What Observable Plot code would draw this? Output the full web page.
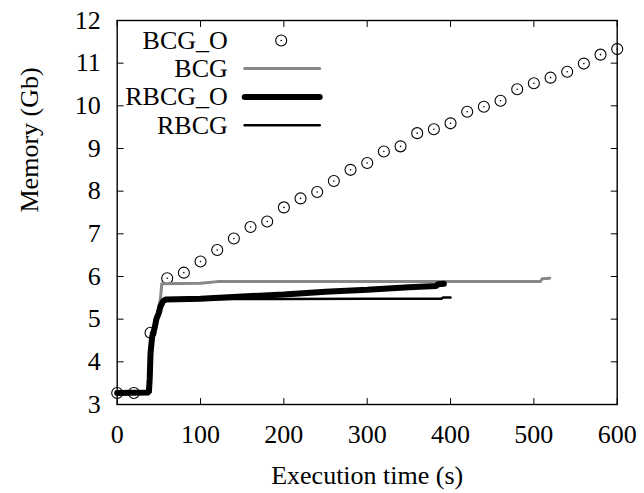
<!DOCTYPE html>
<html>
<head>
<meta charset="utf-8">
<script src="https://cdn.jsdelivr.net/npm/d3@7"></script>
<script src="https://cdn.jsdelivr.net/npm/@observablehq/plot@0.6"></script>
<style>
  html, body { margin: 0; padding: 0; background: #fff; }
</style>
</head>
<body>
<div id="chart"></div>
<script>
// ---- data ----
const xTicks = [0, 100, 200, 300, 400, 500, 600];
const yTicks = [3, 4, 5, 6, 7, 8, 9, 10, 11, 12];
const seriesNames = ["BCG_O", "BCG", "RBCG_O", "RBCG"];

// BCG_O: sampled points (circles)
const bcgOTime = [0, 20, 40, 60, 80, 100, 120, 140, 160, 180, 200, 220, 240, 260, 280, 300,
                  320, 340, 360, 380, 400, 420, 440, 460, 480, 500, 520, 540, 560, 580, 600];
const bcgOMem = [3.27, 3.27, 4.68, 5.96, 6.09, 6.35, 6.62, 6.89, 7.16, 7.29, 7.62, 7.83, 7.98, 8.24, 8.50, 8.66,
                 8.93, 9.05, 9.36, 9.45, 9.59, 9.86, 9.98, 10.12, 10.39, 10.53, 10.66, 10.80, 10.99, 11.20, 11.33];

// BCG: grey line
const bcgTime = [0, 38, 40, 45, 50, 52, 53.5, 100, 110, 120, 508, 510, 519];
const bcgMem  = [3.27, 3.28, 4.2, 4.8, 5.3, 5.5, 5.83, 5.84, 5.86, 5.88, 5.88, 5.95, 5.96];

// RBCG_O: thick black line
const rbcgOTime = [0, 38, 39, 40, 42, 45, 47, 50, 52, 55, 58, 100, 150, 200, 250, 300, 350, 383, 385, 392];
const rbcgOMem  = [3.27, 3.28, 3.6, 4.2, 4.6, 4.8, 5.0, 5.15, 5.3, 5.42, 5.46, 5.48, 5.53, 5.58, 5.64, 5.69, 5.75, 5.78, 5.82, 5.83];

// RBCG: thin black line
const rbcgTime = [0, 38, 40, 45, 50, 55, 58, 100, 200, 300, 389, 391, 400];
const rbcgMem  = [3.27, 3.28, 4.2, 4.8, 5.2, 5.42, 5.46, 5.47, 5.47, 5.48, 5.48, 5.51, 5.51];

// ---- build tables ----
const toRows = (t, m) => t.map((x, i) => ({t: x, m: m[i]}));
const bcgO = toRows(bcgOTime, bcgOMem);
const bcg = toRows(bcgTime, bcgMem);
const rbcgO = toRows(rbcgOTime, rbcgOMem);
const rbcg = toRows(rbcgTime, rbcgMem);

const lineShape = { draw(context, l) { context.moveTo(0, 0); context.lineTo(0, -l); } };
const FS = 26;
const FF = "Liberation Serif";

const tickMarks = [
  Plot.vector(xTicks, {x: d => d, frameAnchor: "bottom", rotate: 0, length: 6, anchor: "start", shape: lineShape, stroke: "black", strokeWidth: 1}),
  Plot.vector(xTicks, {x: d => d, frameAnchor: "top", rotate: 180, length: 6, anchor: "start", shape: lineShape, stroke: "black", strokeWidth: 1}),
  Plot.vector(yTicks, {y: d => d, frameAnchor: "left", rotate: 90, length: 6, anchor: "start", shape: lineShape, stroke: "black", strokeWidth: 1}),
  Plot.vector(yTicks, {y: d => d, frameAnchor: "right", rotate: -90, length: 6, anchor: "start", shape: lineShape, stroke: "black", strokeWidth: 1})
];

// legend rows (styling positions, relative to top-left of frame)
const legendRowDy = [20, 48, 76.5, 104.7];
const legendStyles = [
  null,
  {stroke: "#888", strokeWidth: 3},
  {stroke: "black", strokeWidth: 6},
  {stroke: "black", strokeWidth: 2.5}
];
const legendMarks = [];
seriesNames.forEach((name, i) => {
  legendMarks.push(Plot.text([name], {frameAnchor: "top-left", text: d => d, textAnchor: "end", lineAnchor: "middle",
    dx: 110.6, dy: legendRowDy[i], fontSize: FS, fontFamily: FF, fill: "black"}));
  if (i === 0) {
    legendMarks.push(Plot.dot([name], {frameAnchor: "top-left", dx: 164, dy: legendRowDy[i], r: 5.5, stroke: "black", strokeWidth: 1.1, fill: "none"}));
    legendMarks.push(Plot.dot([name], {frameAnchor: "top-left", dx: 164, dy: legendRowDy[i], r: 0.8, fill: "black", stroke: "none"}));
  } else {
    legendMarks.push(Plot.vector([name], {frameAnchor: "top-left", dx: 127.5, dy: legendRowDy[i], rotate: 90, length: 75,
      anchor: "start", shape: lineShape, ...legendStyles[i]}));
  }
});

const chart = Plot.plot({
  width: 644,
  height: 493,
  marginLeft: 116.7,
  marginRight: 27.3,
  marginTop: 20,
  marginBottom: 89,
  style: {fontFamily: FF, fontSize: FS + "px", color: "black", background: "white"},
  x: {domain: [0, 600], axis: null},
  y: {domain: [3, 12], axis: null},
  marks: [
    Plot.frame({stroke: "black", strokeWidth: 1.4}),
    ...tickMarks,
    // tick labels
    Plot.text(xTicks, {x: d => d, frameAnchor: "bottom", lineAnchor: "top", dy: 20, text: d => String(d), fontSize: FS, fontFamily: FF, fill: "black"}),
    Plot.text(yTicks, {y: d => d, frameAnchor: "left", textAnchor: "end", lineAnchor: "middle", dx: -16.5, text: d => String(d), fontSize: FS, fontFamily: FF, fill: "black"}),
    // axis titles
    Plot.text(["Execution time (s)"], {frameAnchor: "bottom", lineAnchor: "top", dy: 61.5, text: d => d, fontSize: FS, fontFamily: FF, fill: "black"}),
    Plot.text(["Memory (Gb)"], {frameAnchor: "left", rotate: -90, lineAnchor: "middle", dx: -87.5, text: d => d, fontSize: FS, fontFamily: FF, fill: "black"}),
    // data
    Plot.dot(bcgO, {x: "t", y: "m", r: 5.5, stroke: "black", strokeWidth: 1.1, fill: "none"}),
    Plot.dot(bcgO, {x: "t", y: "m", r: 0.8, fill: "black", stroke: "none"}),
    Plot.line(bcg, {x: "t", y: "m", stroke: "#888", strokeWidth: 3}),
    Plot.line(rbcgO, {x: "t", y: "m", stroke: "black", strokeWidth: 6, strokeLinejoin: "miter"}),
    Plot.line(rbcg, {x: "t", y: "m", stroke: "black", strokeWidth: 2.5}),
    ...legendMarks
  ]
});
document.getElementById("chart").appendChild(chart);
</script>
</body>
</html>
